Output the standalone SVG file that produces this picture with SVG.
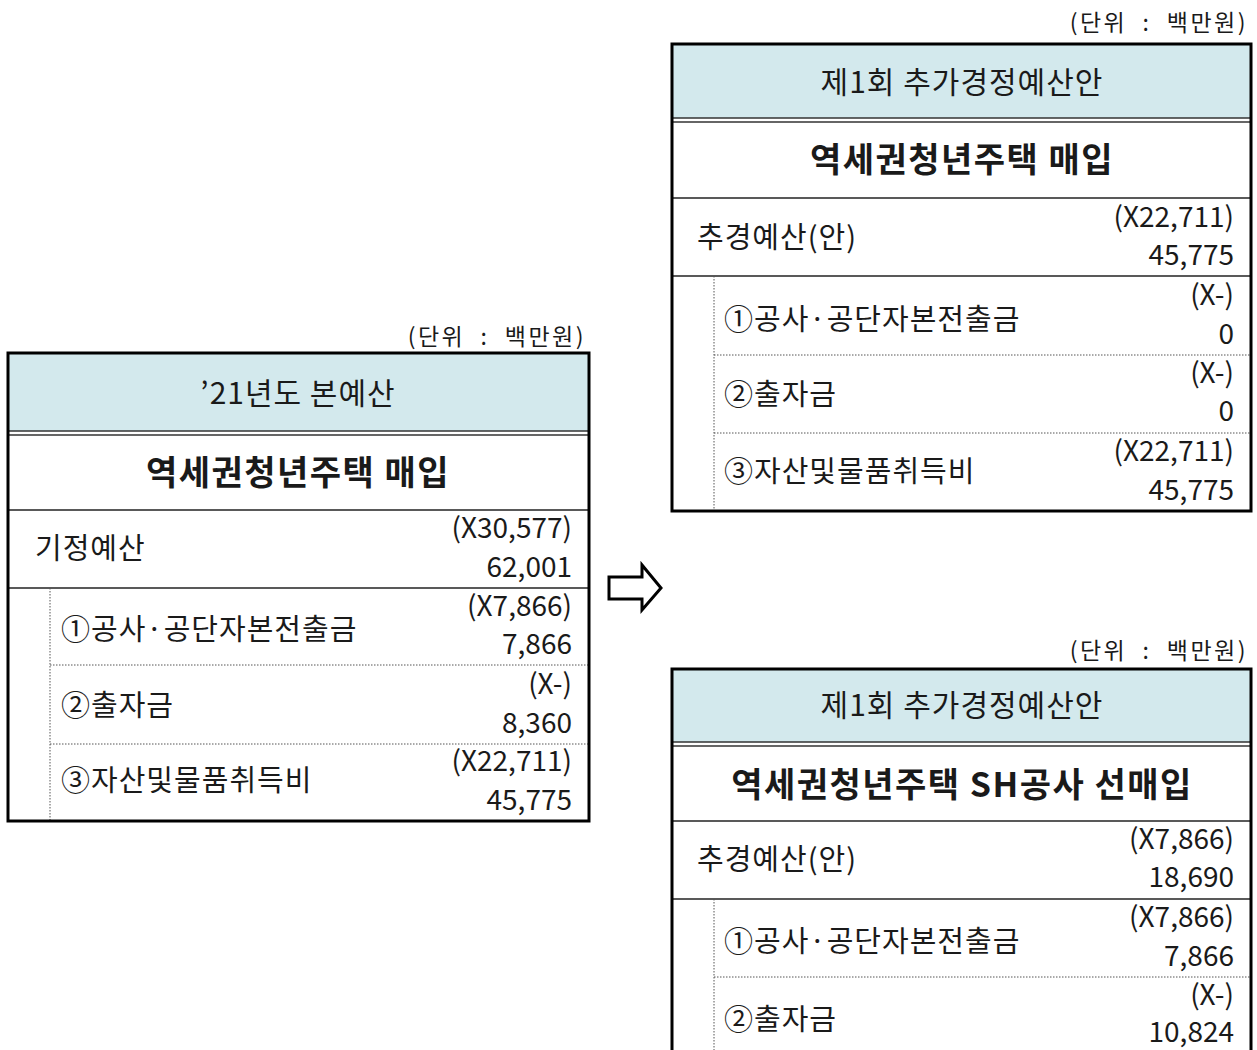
<svg xmlns="http://www.w3.org/2000/svg" width="1257" height="1050" viewBox="0 0 1257 1050">
<style>
text{font-family:"Noto Sans CJK KR","Noto Sans",sans-serif;fill:#1a1a1a}
.unit{font-size:23px;text-anchor:end;letter-spacing:2.5px}
.hdr{font-size:30px;text-anchor:middle;letter-spacing:1px}
.ttl{font-size:34px;font-weight:bold;text-anchor:middle;letter-spacing:1.5px}
.lbl{font-size:29px;letter-spacing:1px}
.num{font-size:28px;text-anchor:end}
.band{fill:#d3e9ed;stroke:none}
.outer{fill:none;stroke:#000;stroke-width:3}
.solid{stroke:#222;stroke-width:1.5}
.dbl{stroke:#333;stroke-width:1.3}
.dot{stroke:#555;stroke-width:1;stroke-dasharray:1.5 1.5}
</style>
<rect width="1257" height="1050" fill="#fff"/>

<g id="left-table">
  <rect class="band" x="8" y="353" width="581" height="78"/>
  <line class="dbl" x1="8" y1="431" x2="589" y2="431"/>
  <line class="dbl" x1="8" y1="435" x2="589" y2="435"/>
  <line class="solid" x1="8" y1="510" x2="589" y2="510"/>
  <line class="solid" x1="8" y1="588" x2="589" y2="588"/>
  <line class="dot" x1="50" y1="588" x2="50" y2="821"/>
  <line class="dot" x1="50" y1="665" x2="589" y2="665"/>
  <line class="dot" x1="50" y1="744" x2="589" y2="744"/>
  <rect class="outer" x="8" y="353" width="581" height="468"/>
  <text class="unit" x="586" y="345" xml:space="preserve">(단위  :  백만원)</text>
  <text class="hdr" x="298" y="404">’21년도  본예산</text>
  <text class="ttl" x="298" y="485">역세권청년주택  매입</text>
  <text class="lbl" x="35" y="559">기정예산</text>
  <text class="num" x="572" y="538">(X30,577)</text>
  <text class="num" x="572" y="577">62,001</text>
  <text class="lbl" x="61" y="640">①공사·공단자본전출금</text>
  <text class="num" x="572" y="616">(X7,866)</text>
  <text class="num" x="572" y="654">7,866</text>
  <text class="lbl" x="61" y="716">②출자금</text>
  <text class="num" x="572" y="694">(X-)</text>
  <text class="num" x="572" y="733">8,360</text>
  <text class="lbl" x="61" y="791">③자산및물품취득비</text>
  <text class="num" x="572" y="771">(X22,711)</text>
  <text class="num" x="572" y="810">45,775</text>
</g>

<g id="right-top-table">
  <rect class="band" x="672" y="44" width="579" height="74"/>
  <line class="dbl" x1="672" y1="118" x2="1251" y2="118"/>
  <line class="dbl" x1="672" y1="122" x2="1251" y2="122"/>
  <line class="solid" x1="672" y1="198" x2="1251" y2="198"/>
  <line class="solid" x1="672" y1="276" x2="1251" y2="276"/>
  <line class="dot" x1="714" y1="276" x2="714" y2="511"/>
  <line class="dot" x1="714" y1="355" x2="1251" y2="355"/>
  <line class="dot" x1="714" y1="433" x2="1251" y2="433"/>
  <rect class="outer" x="672" y="44" width="579" height="467"/>
  <text class="unit" x="1248" y="31" xml:space="preserve">(단위  :  백만원)</text>
  <text class="hdr" x="962" y="93">제1회  추가경정예산안</text>
  <text class="ttl" x="962" y="172">역세권청년주택  매입</text>
  <text class="lbl" x="697" y="248">추경예산(안)</text>
  <text class="num" x="1234" y="227">(X22,711)</text>
  <text class="num" x="1234" y="265">45,775</text>
  <text class="lbl" x="724" y="330">①공사·공단자본전출금</text>
  <text class="num" x="1234" y="305">(X-)</text>
  <text class="num" x="1234" y="344">0</text>
  <text class="lbl" x="724" y="405">②출자금</text>
  <text class="num" x="1234" y="383">(X-)</text>
  <text class="num" x="1234" y="421">0</text>
  <text class="lbl" x="724" y="482">③자산및물품취득비</text>
  <text class="num" x="1234" y="461">(X22,711)</text>
  <text class="num" x="1234" y="500">45,775</text>
</g>

<g id="right-bottom-table">
  <rect class="band" x="672" y="669" width="579" height="73"/>
  <line class="dbl" x1="672" y1="742" x2="1251" y2="742"/>
  <line class="dbl" x1="672" y1="746" x2="1251" y2="746"/>
  <line class="solid" x1="672" y1="821" x2="1251" y2="821"/>
  <line class="solid" x1="672" y1="899" x2="1251" y2="899"/>
  <line class="dot" x1="714" y1="899" x2="714" y2="1050"/>
  <line class="dot" x1="714" y1="977" x2="1251" y2="977"/>
  <rect class="outer" x="672" y="669" width="579" height="400"/>
  <text class="unit" x="1248" y="659" xml:space="preserve">(단위  :  백만원)</text>
  <text class="hdr" x="962" y="716">제1회  추가경정예산안</text>
  <text class="ttl" x="962" y="797">역세권청년주택  SH공사  선매입</text>
  <text class="lbl" x="697" y="870">추경예산(안)</text>
  <text class="num" x="1234" y="849">(X7,866)</text>
  <text class="num" x="1234" y="887">18,690</text>
  <text class="lbl" x="724" y="952">①공사·공단자본전출금</text>
  <text class="num" x="1234" y="927">(X7,866)</text>
  <text class="num" x="1234" y="966">7,866</text>
  <text class="lbl" x="724" y="1030">②출자금</text>
  <text class="num" x="1234" y="1005">(X-)</text>
  <text class="num" x="1234" y="1042">10,824</text>
</g>

<g id="connectors">
  <polygon points="609,577 642,577 642,565 661,588 642,610 642,599 609,599" fill="#fff" stroke="#000" stroke-width="3" stroke-linejoin="miter"/>
</g>
</svg>
